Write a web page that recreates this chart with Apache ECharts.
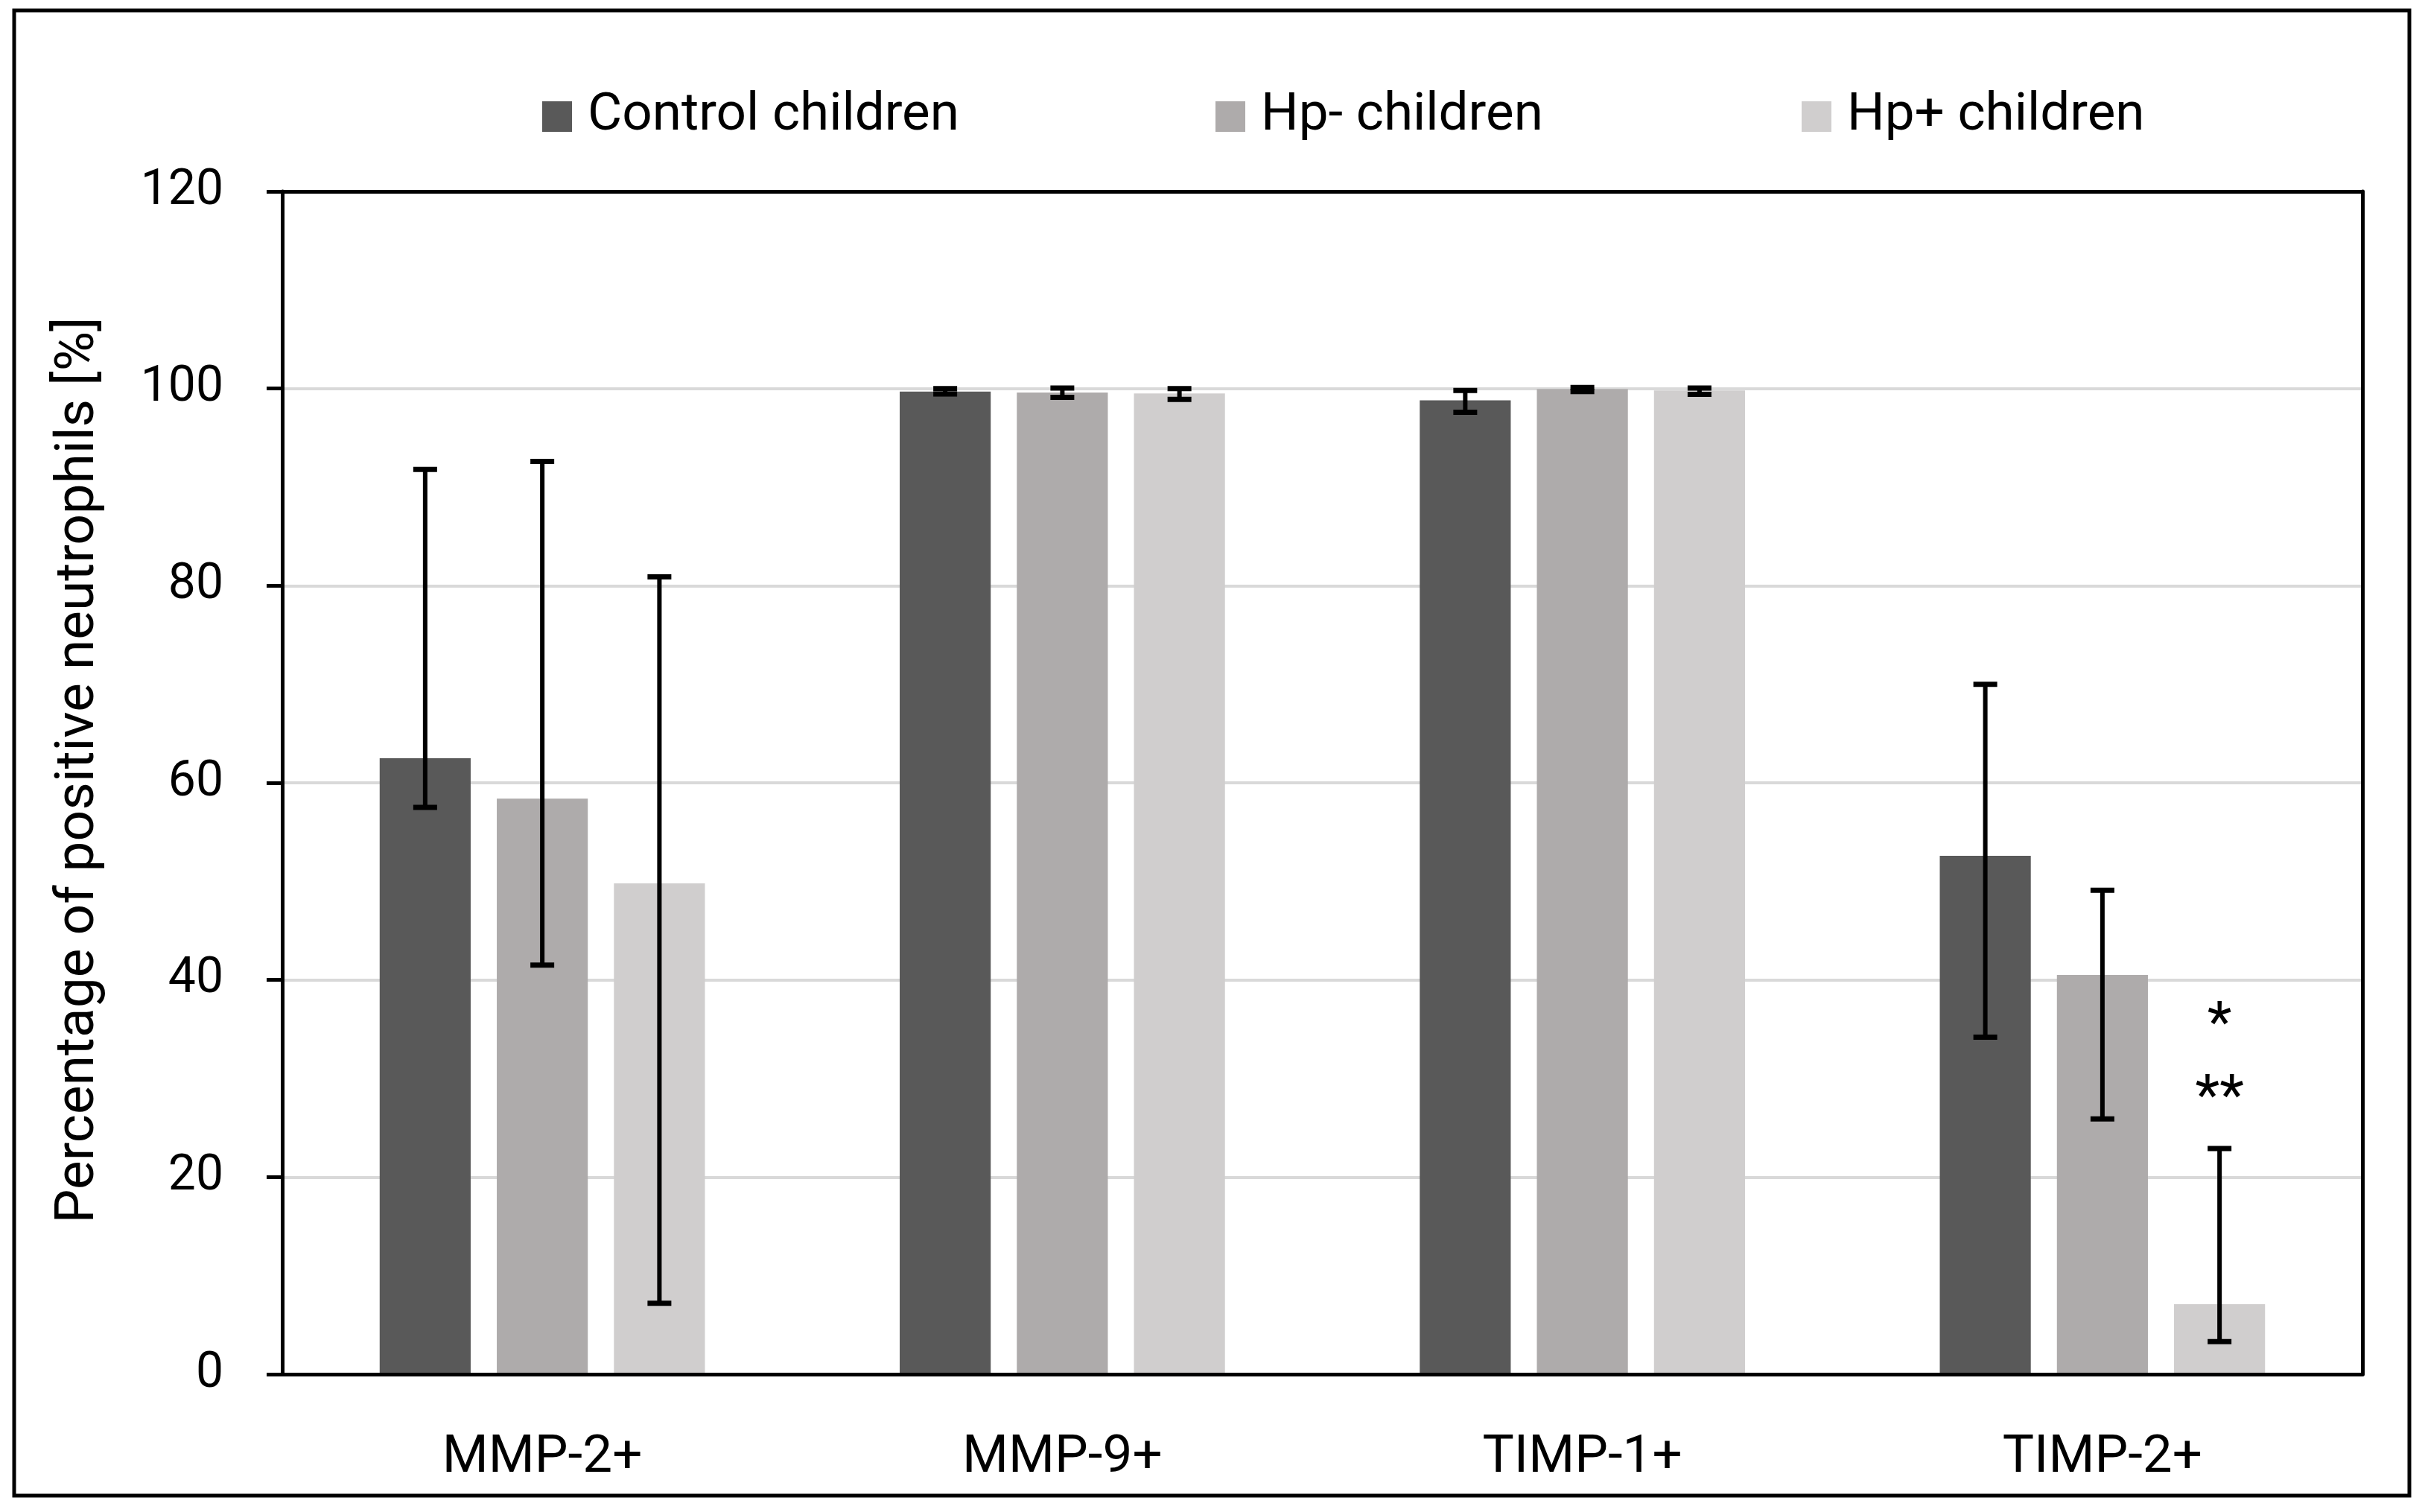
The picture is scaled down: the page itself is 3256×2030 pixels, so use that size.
<!DOCTYPE html>
<html><head><meta charset="utf-8">
<script src="https://cdn.jsdelivr.net/npm/echarts@6/dist/echarts.min.js"></script>
<style>html,body{margin:0;padding:0;background:#fff}#c{width:3256px;height:2030px}</style>
</head><body><div id="c"></div>
<script>
// ---- data ----
const categories = ['MMP-2+', 'MMP-9+', 'TIMP-1+', 'TIMP-2+'];
const seriesNames = ['Control children', 'Hp- children', 'Hp+ children'];
const controlMean = [62.5, 99.7, 98.8, 52.6];
const controlLow  = [57.5, 99.45, 97.6, 34.2];
const controlHigh = [91.8, 100.0, 99.8, 70.0];
const hpNegMean = [58.4, 99.6, 99.95, 40.5];
const hpNegLow  = [41.5, 99.1, 99.7, 25.9];
const hpNegHigh = [92.6, 100.05, 100.1, 49.1];
const hpPosMean = [49.8, 99.5, 99.8, 7.1];
const hpPosLow  = [7.2, 98.9, 99.4, 3.3];
const hpPosHigh = [80.9, 100.0, 100.05, 22.9];
const sigCategory = [3, 3];
const sigValue = [36.6, 29.2];
const sigText = ['*', '**'];
const yMin = 0, yMax = 120, yStep = 20;
const yTitle = 'Percentage of positive neutrophils [%]';

// ---- style ----
const colors = ['#595959', '#AEABAB', '#D0CECE'];
const FONT = 'Roboto';
const BAR_FRAC = 0.175, GAP_FRAC = 0.287;

const chart = echarts.init(document.getElementById('c'));

function errRender(idx) {
  return function (params, api) {
    const x = api.value(0);
    const lo = api.coord([x, api.value(1)]);
    const hi = api.coord([x, api.value(2)]);
    const band = api.size([1, 0])[0];
    const off = (idx - 1) * band * BAR_FRAC * (1 + GAP_FRAC);
    const cx = lo[0] + off;
    const h = 16;
    return {
      type: 'group',
      children: [
        { type: 'line', shape: { x1: cx, y1: hi[1], x2: cx, y2: lo[1] }, style: { stroke: '#000', lineWidth: 6 } },
        { type: 'line', shape: { x1: cx - h, y1: hi[1], x2: cx + h, y2: hi[1] }, style: { stroke: '#000', lineWidth: 7 } },
        { type: 'line', shape: { x1: cx - h, y1: lo[1], x2: cx + h, y2: lo[1] }, style: { stroke: '#000', lineWidth: 7 } }
      ]
    };
  };
}

function errData(low, high) {
  return low.map((v, i) => [i, v, high[i]]);
}

const means = [controlMean, hpNegMean, hpPosMean];
const lows = [controlLow, hpNegLow, hpPosLow];
const highs = [controlHigh, hpNegHigh, hpPosHigh];

const series = [];
seriesNames.forEach((name, i) => {
  series.push({
    name: name, type: 'bar', data: means[i],
    barWidth: (BAR_FRAC * 100) + '%', barGap: (GAP_FRAC * 100) + '%',
    itemStyle: { color: colors[i] }, z: 2
  });
});
seriesNames.forEach((name, i) => {
  series.push({
    type: 'custom', name: name + ' error', renderItem: errRender(i),
    data: errData(lows[i], highs[i]), encode: { x: 0, y: [1, 2] }, z: 5, silent: true
  });
});
series.push({
  type: 'custom', name: 'significance', z: 6, silent: true,
  data: sigCategory.map((c, i) => [c, sigValue[i]]),
  encode: { x: 0, y: 1 },
  renderItem: function (params, api) {
    const p = api.coord([api.value(0), api.value(1)]);
    const band = api.size([1, 0])[0];
    const off = band * BAR_FRAC * (1 + GAP_FRAC);
    return {
      type: 'text', x: p[0] + off, y: p[1] + 18,
      style: { text: sigText[params.dataIndex], font: '76px ' + FONT, fill: '#000', align: 'center', verticalAlign: 'middle' }
    };
  }
});

const legendLefts = [723, 1627, 2414];
const legends = seriesNames.map((n, i) => ({
  data: [n], left: legendLefts[i], top: 116, orient: 'horizontal',
  icon: 'rect', itemWidth: 40, itemHeight: 41, selectedMode: false,
  textStyle: { fontFamily: FONT, fontSize: 71, color: '#000', padding: [0, 0, 0, 16] }
}));

const blackLine = { show: true, onZero: false, lineStyle: { color: '#000', width: 5 } };

chart.setOption({
  backgroundColor: '#fff',
  animation: false,
  legend: legends,
  grid: { left: 379, right: 84, top: 257, bottom: 185, containLabel: false },
  xAxis: [{
    type: 'category', data: categories, z: 4,
    axisLine: blackLine,
    axisTick: { show: false },
    axisLabel: { fontFamily: FONT, fontSize: 71, color: '#000', margin: 78 },
    splitLine: { show: false }
  }, {
    type: 'category', data: categories, position: 'top', z: 4,
    axisLine: blackLine, axisTick: { show: false }, axisLabel: { show: false }, splitLine: { show: false }
  }],
  yAxis: [{
    type: 'value', min: yMin, max: yMax, interval: yStep, z: 1,
    name: yTitle, nameLocation: 'middle', nameGap: 236,
    nameTextStyle: { fontFamily: FONT, fontSize: 73, color: '#000', padding: [0, 0, 0, 34] },
    axisLine: blackLine,
    axisTick: { show: true, inside: false, length: 21, lineStyle: { color: '#000', width: 5 } },
    axisLabel: { fontFamily: FONT, fontSize: 66, color: '#000', margin: 79 },
    splitLine: { show: true, lineStyle: { color: '#D9D9D9', width: 4 } }
  }, {
    type: 'value', min: yMin, max: yMax, interval: yStep, position: 'right', z: 4,
    axisLine: blackLine, axisTick: { show: false }, axisLabel: { show: false }, splitLine: { show: false }
  }],
  graphic: [{
    type: 'rect', shape: { x: 19, y: 14, width: 3216, height: 1994 },
    style: { fill: 'none', stroke: '#000', lineWidth: 5 }, z: 100
  }],
  series: series
});
</script></body></html>
